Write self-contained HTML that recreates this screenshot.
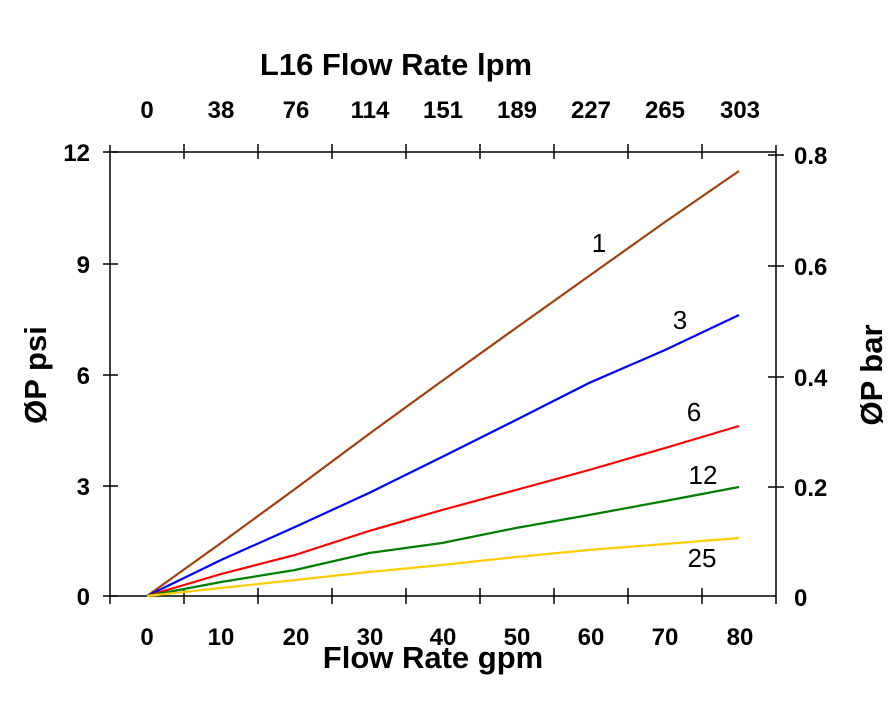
<!DOCTYPE html>
<html><head><style>body{margin:0;background:#fff}</style></head><body>
<svg width="890" height="702" xmlns="http://www.w3.org/2000/svg" font-family="Liberation Sans, sans-serif">
<rect width="890" height="702" fill="#fff"/>
<g stroke="#000" stroke-width="1.5" fill="none">
<line x1="110" y1="152" x2="776" y2="152"/>
<line x1="110" y1="596" x2="776" y2="596"/>
<line x1="110" y1="145" x2="110" y2="604"/>
<line x1="776" y1="145" x2="776" y2="604"/>
<line x1="103" y1="152" x2="118" y2="152"/><line x1="103" y1="264" x2="118" y2="264"/><line x1="103" y1="375" x2="118" y2="375"/><line x1="103" y1="486" x2="118" y2="486"/><line x1="103" y1="596" x2="118" y2="596"/>
<line x1="768" y1="155" x2="784" y2="155"/><line x1="768" y1="266" x2="784" y2="266"/><line x1="768" y1="377" x2="784" y2="377"/><line x1="768" y1="487" x2="784" y2="487"/>
<g>
<line x1="184" y1="144" x2="184" y2="159"/><line x1="258" y1="144" x2="258" y2="159"/><line x1="332" y1="144" x2="332" y2="159"/><line x1="406" y1="144" x2="406" y2="159"/><line x1="480" y1="144" x2="480" y2="159"/><line x1="554" y1="144" x2="554" y2="159"/><line x1="628" y1="144" x2="628" y2="159"/><line x1="702" y1="144" x2="702" y2="159"/>
<line x1="184" y1="588" x2="184" y2="604"/><line x1="258" y1="588" x2="258" y2="604"/><line x1="332" y1="588" x2="332" y2="604"/><line x1="406" y1="588" x2="406" y2="604"/><line x1="480" y1="588" x2="480" y2="604"/><line x1="554" y1="588" x2="554" y2="604"/><line x1="628" y1="588" x2="628" y2="604"/><line x1="702" y1="588" x2="702" y2="604"/>
</g>
</g>
<g fill="none" stroke-width="2.2">
<polyline stroke="#a0400a" points="147,596 221,543 295,489 369,434 442,381 516,328 589,276 665,222 739,171"/>
<polyline stroke="#0000ff" points="147,596 221,560 295,527 369,493 442,457 516,420 589,383 665,350 739,315"/>
<polyline stroke="#ff0000" points="147,596 221,574 295,555 369,531 442,510 516,490 589,470 665,448 739,426"/>
<polyline stroke="#008000" points="147,596 221,582 295,570 369,553 442,543 516,528 589,515 665,501 739,487"/>
<polyline stroke="#ffcc00" points="147,596 221,588 295,580 369,572 442,565 516,557 589,550 665,544 739,538"/>
</g>
<g font-size="26" fill="#000">
<text x="599" y="252" text-anchor="middle">1</text>
<text x="680" y="329" text-anchor="middle">3</text>
<text x="694" y="421" text-anchor="middle">6</text>
<text x="703" y="484" text-anchor="middle">12</text>
<text x="702" y="567" text-anchor="middle">25</text>
</g>
<g font-weight="bold" fill="#000">
<text x="396" y="75" font-size="31" text-anchor="middle">L16 Flow Rate lpm</text>
<text x="433" y="668" font-size="31" text-anchor="middle">Flow Rate gpm</text>
<g font-size="24" text-anchor="middle">
<text x="147" y="118">0</text><text x="221" y="118">38</text><text x="296" y="118">76</text><text x="370" y="118">114</text><text x="443" y="118">151</text><text x="517" y="118">189</text><text x="591" y="118">227</text><text x="665" y="118">265</text><text x="740" y="118">303</text>
<text x="147" y="645">0</text><text x="221" y="645">10</text><text x="296" y="645">20</text><text x="370" y="645">30</text><text x="443" y="645">40</text><text x="517" y="645">50</text><text x="591" y="645">60</text><text x="665" y="645">70</text><text x="740" y="645">80</text>
</g>
<g font-size="24" text-anchor="end">
<text x="90" y="161">12</text><text x="90" y="273">9</text><text x="90" y="384">6</text><text x="90" y="495">3</text><text x="90" y="605">0</text>
</g>
<g font-size="24" text-anchor="start">
<text x="794" y="164">0.8</text><text x="794" y="275">0.6</text><text x="794" y="386">0.4</text><text x="794" y="496">0.2</text><text x="794" y="606">0</text>
</g>
<text transform="translate(46,375) rotate(-90)" font-size="31" text-anchor="middle">ØP psi</text>
<text transform="translate(882,375) rotate(-90)" font-size="31" text-anchor="middle">ØP bar</text>
</g>
</svg>
</body></html>
